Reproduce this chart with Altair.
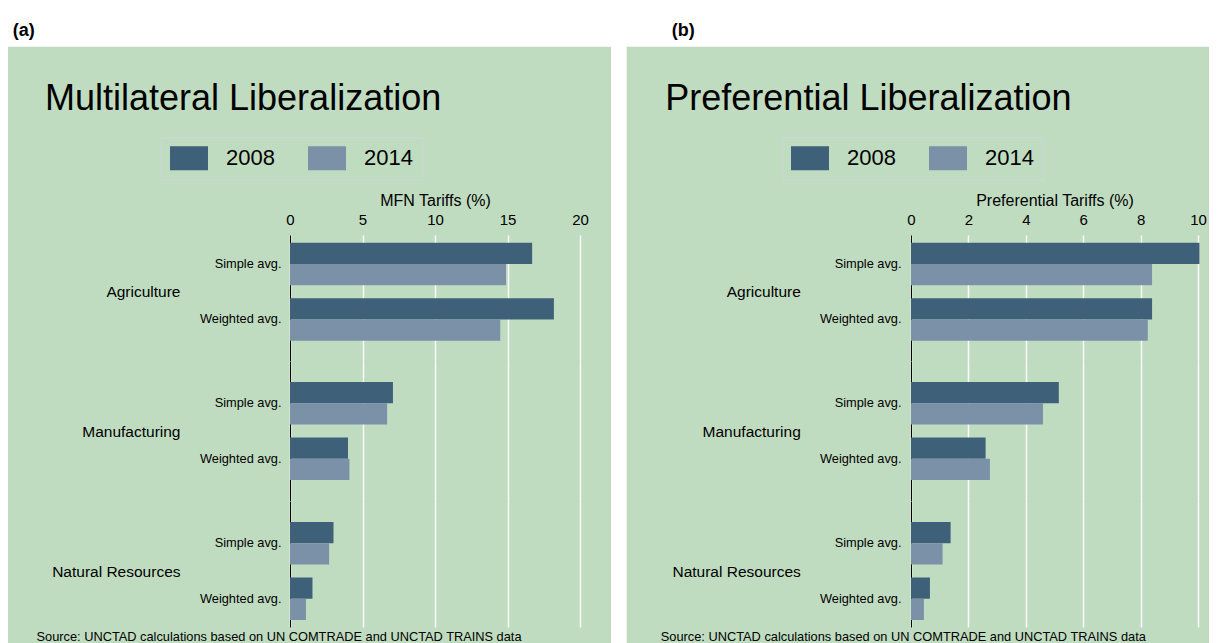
import altair as alt
import pandas as pd

FONT = "Liberation Sans"
BG = "#c0dcc0"
NBSP = "\u00a0"

sectors = ["Agriculture", "Manufacturing", "Natural Resources"]
measures = ["Simple avg.", "Weighted avg."]
years = ["2008", "2014"]
mfn_2008 = [16.7, 18.2, 7.1, 4.0, 3.0, 1.55]
mfn_2014 = [14.9, 14.5, 6.7, 4.1, 2.7, 1.1]
pref_2008 = [10.05, 8.4, 5.15, 2.6, 1.38, 0.66]
pref_2014 = [8.4, 8.25, 4.6, 2.75, 1.1, 0.45]
panel_labels = ["(a)", "(b)"]
panel_titles = ["Multilateral Liberalization", "Preferential Liberalization"]
axis_titles = ["MFN Tariffs (%)", "Preferential Tariffs (%)"]
x_ticks = [[0, 5, 10, 15, 20], [0, 2, 4, 6, 8, 10]]
x_max = [20, 10]
source = "Source: UNCTAD calculations based on UN COMTRADE and UNCTAD TRAINS data"
colors = ["#3e6179", "#7b91a8"]


def make_df(v08, v14):
    rows = []
    pairs = [(s, m) for s in sectors for m in measures]
    for i, (s, m) in enumerate(pairs):
        rows.append({"sector": s, "measure": m, "year": years[0], "value": v08[i]})
        rows.append({"sector": s, "measure": m, "year": years[1], "value": v14[i]})
    return pd.DataFrame(rows)


data = [make_df(mfn_2008, mfn_2014), make_df(pref_2008, pref_2014)]

# layout (pixels, relative to the top-left of the plotting area)
TOP = 227            # distance from canvas top to plot top
CANVAS_W = 1201
heights = [126, 140, 126]
pad_outer = [0.2522, 0.378, 0.2522]
aligns = [0.275, 0.5, 0.75]
sector_title_y = [56.7, 70, 70]
plot_w = [290, 287]
sec_title_x = [-110, -110.7]
src_title_x = [-254, -250.7]
lab_pad = [9, 10]
legend_x = [-129, -129]
legend_y = [-97.7, -97.7]
title_dx = [9, 5]
LEFT_W = 282                 # canvas x of panel (a) plot left
GAP_W = 290 + 330.7          # from panel (a) plot left to panel (b) plot left
GUT_X = 290 + 31             # white gutter, relative to panel (a) plot left
BOTTOM = 410

NOVIEW = alt.ViewBackground(stroke="transparent", strokeWidth=0)
LABEL_EXPR = "datum.label == '2014' ? datum.label + '" + NBSP * 5 + "' : datum.label"


def panel(p):
    df = data[p]
    charts = []
    for k, sec in enumerate(sectors):
        if k == 0:
            xaxis = alt.Axis(orient="top", values=x_ticks[p], title=axis_titles[p],
                             titleFontSize=16, titleFontWeight="normal", titleColor="black",
                             titlePadding=4, labelFontSize=15, labelColor="black", labelPadding=8,
                             ticks=False, domain=False, grid=True, gridColor="white",
                             gridWidth=1.5, labelFlush=False, labelFont=FONT, titleFont=FONT)
        elif k == 1:
            xaxis = alt.Axis(values=x_ticks[p], labels=False, ticks=False, domain=False,
                             title="", grid=True, gridColor="white", gridWidth=1.5)
        else:
            xaxis = alt.Axis(orient="bottom", values=x_ticks[p], labels=False, ticks=False,
                             domain=False, grid=True, gridColor="white", gridWidth=1.5,
                             title=source, titleX=src_title_x[p], titleY=9.5,
                             titleAlign="left", titleBaseline="middle", titleFontSize=12.8,
                             titleFontWeight="normal", titleColor="black", titleFont=FONT)
        yaxis = alt.Axis(title=sec, titleAngle=0, titleAlign="right", titleBaseline="middle",
                         titleX=sec_title_x[p], titleY=sector_title_y[k], titleFontSize=15.5,
                         titleFontWeight="normal", titleColor="black", titleFont=FONT,
                         labelFontSize=12.8, labelColor="black", labelPadding=lab_pad[p],
                         labelFont=FONT, ticks=False, grid=False, domain=True,
                         domainColor="black", domainWidth=1)
        c = (
            alt.Chart(df[df["sector"] == sec])
            .mark_bar()
            .encode(
                x=alt.X("value:Q", scale=alt.Scale(domain=[0, x_max[p]], nice=False, zero=True),
                        axis=xaxis),
                y=alt.Y("measure:N", sort=measures,
                        scale=alt.Scale(paddingInner=0.234, paddingOuter=pad_outer[k],
                                        align=aligns[k]),
                        axis=yaxis),
                yOffset=alt.YOffset("year:N", sort=years,
                                    scale=alt.Scale(paddingInner=0, paddingOuter=0)),
                color=alt.Color("year:N", scale=alt.Scale(domain=years, range=colors),
                                legend=alt.Legend(orient="none", legendX=legend_x[p],
                                                  legendY=legend_y[p], direction="horizontal",
                                                  title=None,
                                                  symbolType="M-1.583,-1L1.583,-1L1.583,1L-1.583,1Z",
                                                  symbolSize=576, symbolOffset=7,
                                                  symbolStrokeWidth=0, symbolOpacity=1,
                                                  labelFontSize=22, labelFont=FONT,
                                                  labelColor="black", labelOffset=25,
                                                  columnPadding=33, padding=9,
                                                  strokeColor="#ccd6da",
                                                  labelExpr=LABEL_EXPR)),
            )
            .properties(width=plot_w[p], height=heights[k], view=NOVIEW)
        )
        charts.append(c)
    return (
        alt.vconcat(*charts, spacing=0)
        .properties(title=alt.Title(panel_titles[p], anchor="start", fontSize=36, font=FONT,
                                    fontWeight="normal", color="black", dx=title_dx[p],
                                    offset=19))
        .resolve_scale(y="independent", yOffset="independent")
    )


one = pd.DataFrame({"a": [0]})
hdr_df = pd.DataFrame({"label": panel_labels})

# left spacer: carries the white header strip and the panel letters
hdr_strip = (
    alt.Chart(one).mark_rect(color="white")
    .encode(x=alt.value(0), x2=alt.value(CANVAS_W), y=alt.value(-TOP),
            y2=alt.value(-TOP + 38.7))
)
hdr_a = (
    alt.Chart(hdr_df).transform_filter(alt.datum.label == panel_labels[0])
    .mark_text(align="left", baseline="alphabetic", fontSize=18, fontWeight="bold",
               font=FONT, color="black")
    .encode(text="label:N", x=alt.value(4.7), y=alt.value(-TOP + 27.5))
)
hdr_b = (
    alt.Chart(hdr_df).transform_filter(alt.datum.label == panel_labels[1])
    .mark_text(align="left", baseline="alphabetic", fontSize=18, fontWeight="bold",
               font=FONT, color="black")
    .encode(text="label:N", x=alt.value(663.7), y=alt.value(-TOP + 27.5))
)
lsp = alt.layer(hdr_strip, hdr_a, hdr_b).properties(width=LEFT_W, height=1, view=NOVIEW)

# middle spacer: white gutter between the two panels
gutter = (
    alt.Chart(one).mark_rect(color="white")
    .encode(x=alt.value(GUT_X), x2=alt.value(GUT_X + 15.7), y=alt.value(-TOP),
            y2=alt.value(BOTTOM))
)
extent = (
    alt.Chart(one).mark_rect(opacity=0)
    .encode(x=alt.value(0), x2=alt.value(CANVAS_W - LEFT_W), y=alt.value(-TOP),
            y2=alt.value(BOTTOM))
)
wsp = alt.layer(extent, gutter).properties(width=GAP_W, height=1, view=NOVIEW)

chart = (
    alt.hconcat(lsp, panel(0), wsp, panel(1), spacing=0, bounds="flush")
    .resolve_scale(color="independent", x="independent", y="independent")
    .properties(background=BG, padding=0)
    .configure_view(strokeWidth=0, stroke="transparent")
    .configure(font=FONT)
)

chart.save("out.html", embed_options={"renderer": "svg", "actions": False})
